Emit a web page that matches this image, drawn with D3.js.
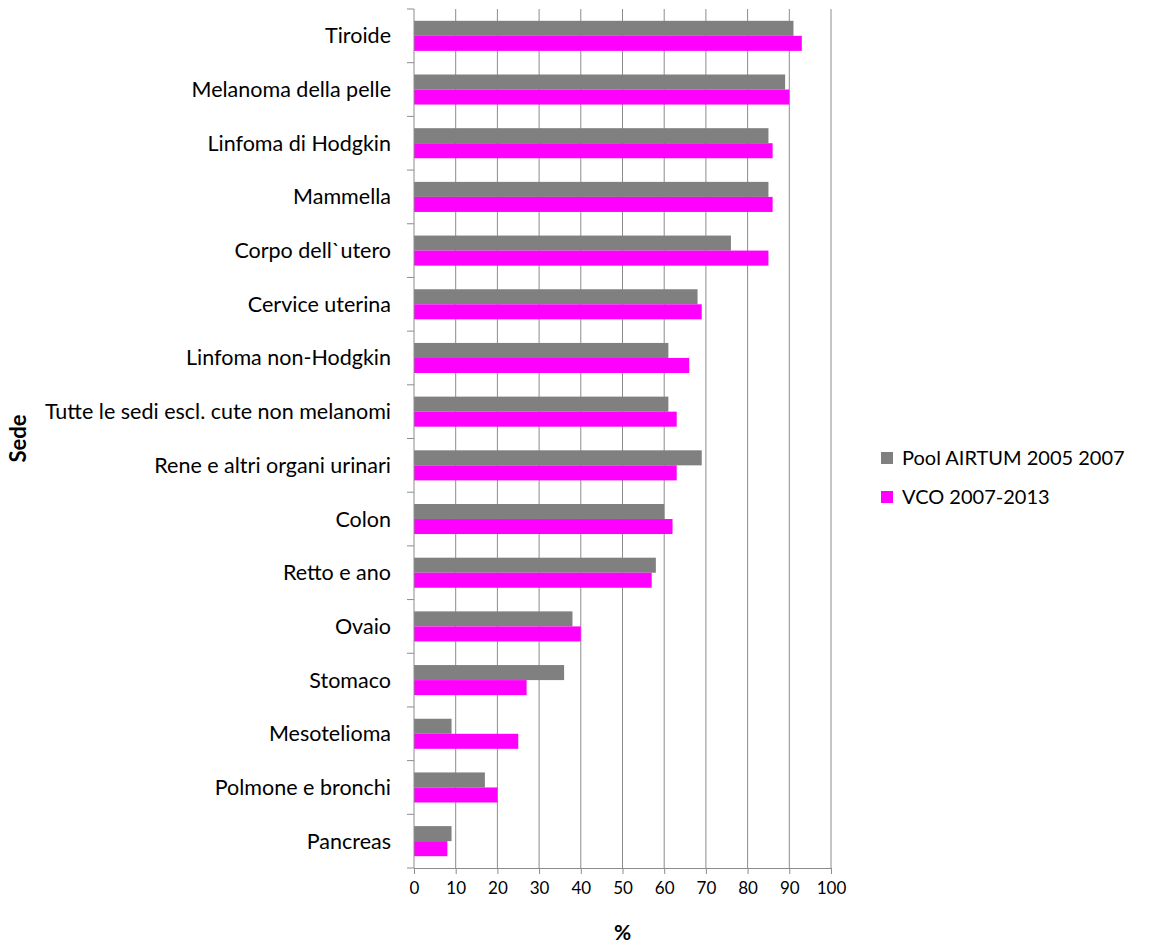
<!DOCTYPE html>
<html>
<head>
<meta charset="utf-8">
<script src="https://cdnjs.cloudflare.com/ajax/libs/d3/7.8.5/d3.min.js"></script>
<style>
  body { margin: 0; background: #fff; }
  text { font-family: Lato, "Open Sans", sans-serif; fill: #000; }
</style>
</head>
<body>
<div id="chart"></div>
<script>
var sites = ["Tiroide", "Melanoma della pelle", "Linfoma di Hodgkin", "Mammella",
  "Corpo dell`utero", "Cervice uterina", "Linfoma non-Hodgkin",
  "Tutte le sedi escl. cute non melanomi", "Rene e altri organi urinari", "Colon",
  "Retto e ano", "Ovaio", "Stomaco", "Mesotelioma", "Polmone e bronchi", "Pancreas"];
var poolAirtum = [91, 89, 85, 85, 76, 68, 61, 61, 69, 60, 58, 38, 36, 9, 17, 9];
var vco = [93, 90, 86, 86, 85, 69, 66, 63, 63, 62, 57, 40, 27, 25, 20, 8];
var seriesNames = ["Pool AIRTUM 2005 2007", "VCO 2007-2013"];
var seriesColors = ["#808080", "#ff00ff"];
var xTicks = d3.range(0, 101, 10);

var width = 1164, height = 945;
var plot = {left: 414, right: 831, top: 9, bottom: 868};

var svg = d3.select("#chart").append("svg")
  .attr("width", width)
  .attr("height", height);

var x = d3.scaleLinear().domain([0, 100]).range([plot.left, plot.right]);
var y = d3.scaleBand().domain(sites).range([plot.top, plot.bottom]).paddingInner(0.44).paddingOuter(0.22);
var ySub = d3.scaleBand().domain([0, 1]).range([0, y.bandwidth()]);

//grid lines
svg.append("g")
  .selectAll("line")
  .data(xTicks.slice(1))
  .enter().append("line")
  .attr("x1", function(d) { return x(d); })
  .attr("x2", function(d) { return x(d); })
  .attr("y1", plot.top)
  .attr("y2", plot.bottom)
  .style("stroke", "#8c8c8c")
  .style("stroke-width", 1);

//bars
var rows = sites.map(function(s, i) { return {site: s, values: [poolAirtum[i], vco[i]]}; });
var group = svg.append("g").selectAll(".row")
  .data(rows)
  .enter().append("g")
  .attr("class", "row")
  .attr("transform", function(d) { return "translate(0," + y(d.site) + ")"; });

group.selectAll("rect")
  .data(function(d) { return d.values; })
  .enter().append("rect")
  .attr("x", x(0))
  .attr("y", function(d, i) { return ySub(i); })
  .attr("width", function(d) { return x(d) - x(0); })
  .attr("height", ySub.bandwidth())
  .style("fill", function(d, i) { return seriesColors[i]; });

//x axis
var xAxis = svg.append("g")
  .attr("transform", "translate(0," + plot.bottom + ")")
  .call(d3.axisBottom(x).tickValues(xTicks).tickSize(6).tickPadding(8));
xAxis.select(".domain").style("stroke", "#8c8c8c");
xAxis.selectAll(".tick line").style("stroke", "#8c8c8c");
xAxis.selectAll("text").style("font-size", "17px").style("fill", "#000")
  .style("font-family", "Lato, sans-serif");

//y axis: tick marks at category boundaries
var yAxis = svg.append("g")
  .attr("transform", "translate(" + plot.left + ",0)");
yAxis.append("line")
  .attr("y1", plot.top).attr("y2", plot.bottom)
  .style("stroke", "#8c8c8c");
var step = (plot.bottom - plot.top) / sites.length;
yAxis.selectAll(".bound")
  .data(d3.range(sites.length + 1))
  .enter().append("line")
  .attr("x1", -7).attr("x2", 0)
  .attr("y1", function(d) { return plot.top + d * step; })
  .attr("y2", function(d) { return plot.top + d * step; })
  .style("stroke", "#8c8c8c");
yAxis.selectAll(".lab")
  .data(sites)
  .enter().append("text")
  .attr("x", -23)
  .attr("y", function(d) { return y(d) + y.bandwidth() / 2; })
  .attr("dy", "0.35em")
  .style("text-anchor", "end")
  .style("font-size", "21.5px")
  .text(function(d) { return d; });

//axis titles
svg.append("text")
  .attr("transform", "translate(26," + ((plot.top + plot.bottom) / 2) + ") rotate(-90)")
  .style("text-anchor", "middle")
  .style("font-size", "22px")
  .style("font-weight", "bold")
  .text("Sede");
svg.append("text")
  .attr("x", (plot.left + plot.right) / 2)
  .attr("y", 940)
  .style("text-anchor", "middle")
  .style("font-size", "21px")
  .style("font-weight", "bold")
  .text("%");

//legend
var legend = svg.append("g").selectAll(".legend")
  .data(seriesNames)
  .enter().append("g")
  .attr("transform", function(d, i) { return "translate(881," + (458 + i * 39) + ")"; });
legend.append("rect")
  .attr("x", 0).attr("y", -6)
  .attr("width", 12).attr("height", 12)
  .style("fill", function(d, i) { return seriesColors[i]; });
legend.append("text")
  .attr("x", 21)
  .attr("dy", "0.35em")
  .style("font-size", "20px")
  .text(function(d) { return d; });
</script>
</body>
</html>
